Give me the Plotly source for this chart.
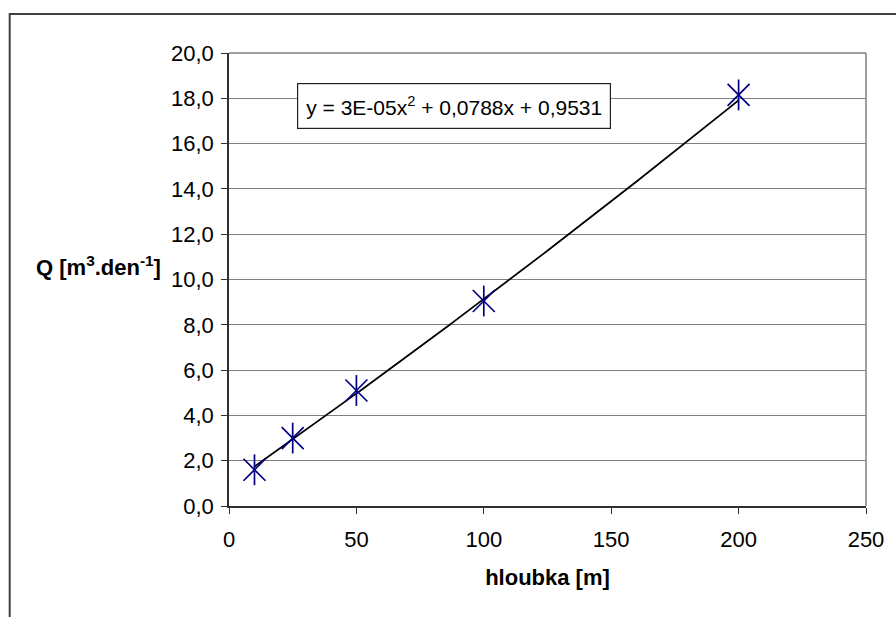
import numpy as np
import plotly.graph_objects as go

# Data
depth_m = [10, 25, 50, 100, 200]          # hloubka [m]
q_values = [1.6, 3.0, 5.1, 9.05, 18.15]   # Q [m3.den-1]

# Trendline coefficients shown in the chart label (y = a x^2 + b x + c)
trend_a, trend_b, trend_c = 3e-05, 0.0788, 0.9531

x_ticks = [0, 50, 100, 150, 200, 250]
y_ticks = [0, 2, 4, 6, 8, 10, 12, 14, 16, 18, 20]
y_tick_labels = [f"{v:.1f}".replace(".", ",") for v in y_ticks]

FONT = "Liberation Sans, Arial, sans-serif"
NAVY = "#000080"

x_tr = np.linspace(min(depth_m), max(depth_m), 120)
y_tr = trend_a * x_tr**2 + trend_b * x_tr + trend_c

fig = go.Figure()
fig.add_trace(go.Scatter(x=x_tr, y=y_tr, mode="lines",
                         line=dict(color="black", width=1.8),
                         hoverinfo="skip", showlegend=False))
# Excel-like star marker: X plus vertical line
fig.add_trace(go.Scatter(x=depth_m, y=q_values, mode="markers",
                         marker=dict(symbol="x-thin", size=22,
                                     line=dict(color=NAVY, width=1.7)),
                         showlegend=False))
fig.add_trace(go.Scatter(x=depth_m, y=q_values, mode="markers",
                         marker=dict(symbol="line-ns", size=22,
                                     line=dict(color=NAVY, width=1.7)),
                         showlegend=False))

L, R, T, B = 229, 28, 53, 111
W, H = 896, 617
pw, ph = W - L - R, H - T - B

def px_x(p):
    return (p - L) / pw

def px_y(p):
    return (H - B - p) / ph

shapes = [
    # outer chart border (cropped at right and bottom)
    dict(type="rect", xref="paper", yref="paper",
         x0=px_x(9), x1=px_x(W + 20), y0=px_y(H + 20), y1=px_y(14),
         line=dict(color="#404040", width=2), fillcolor="rgba(0,0,0,0)", layer="below"),
    # plot area top and right border
    dict(type="line", xref="paper", yref="paper", x0=0, x1=1, y0=1, y1=1,
         line=dict(color="#808080", width=1.5)),
    dict(type="line", xref="paper", yref="paper", x0=1, x1=1, y0=0, y1=1,
         line=dict(color="#808080", width=1.5)),
]

fig.update_layout(
    width=W, height=H,
    margin=dict(l=L, r=R, t=T, b=B),
    paper_bgcolor="white", plot_bgcolor="white",
    font=dict(family=FONT, size=22, color="black"),
    shapes=shapes,
    xaxis=dict(range=[0, 250], tickvals=x_ticks, ticktext=[str(v) for v in x_ticks],
               showgrid=False, zeroline=False,
               showline=True, linecolor="#303030", linewidth=1.5,
               ticks="outside", ticklen=6, tickcolor="#303030", tickwidth=1.2,
               ticklabelstandoff=7, tickfont=dict(size=22),
               title=dict(text="<b>hloubka [m]</b>", standoff=18,
                          font=dict(family=FONT, size=22))),
    yaxis=dict(range=[0, 20], tickvals=y_ticks, ticktext=y_tick_labels,
               showgrid=True, gridcolor="#808080", gridwidth=1.2, zeroline=False,
               showline=True, linecolor="#303030", linewidth=1.5,
               ticks="outside", ticklen=6, tickcolor="#303030", tickwidth=1.2,
               ticklabelstandoff=3, tickfont=dict(size=22)),
    annotations=[
        dict(text="<b>Q [m<sup>3</sup>.den<sup>-1</sup>]</b>", xref="paper", yref="paper",
             x=px_x(98), y=px_y(266), showarrow=False, xanchor="center", yanchor="middle",
             font=dict(family=FONT, size=22)),
        dict(text="y = 3E-05x<sup>2</sup> + 0,0788x + 0,9531", xref="paper", yref="paper",
             x=px_x(454.5), y=px_y(106), showarrow=False, xanchor="center", yanchor="middle",
             width=302, height=34, align="center", valign="middle",
             bgcolor="white", bordercolor="#202020", borderwidth=1.2, borderpad=5,
             font=dict(family=FONT, size=21)),
    ],
)

fig.write_html("out.html")
